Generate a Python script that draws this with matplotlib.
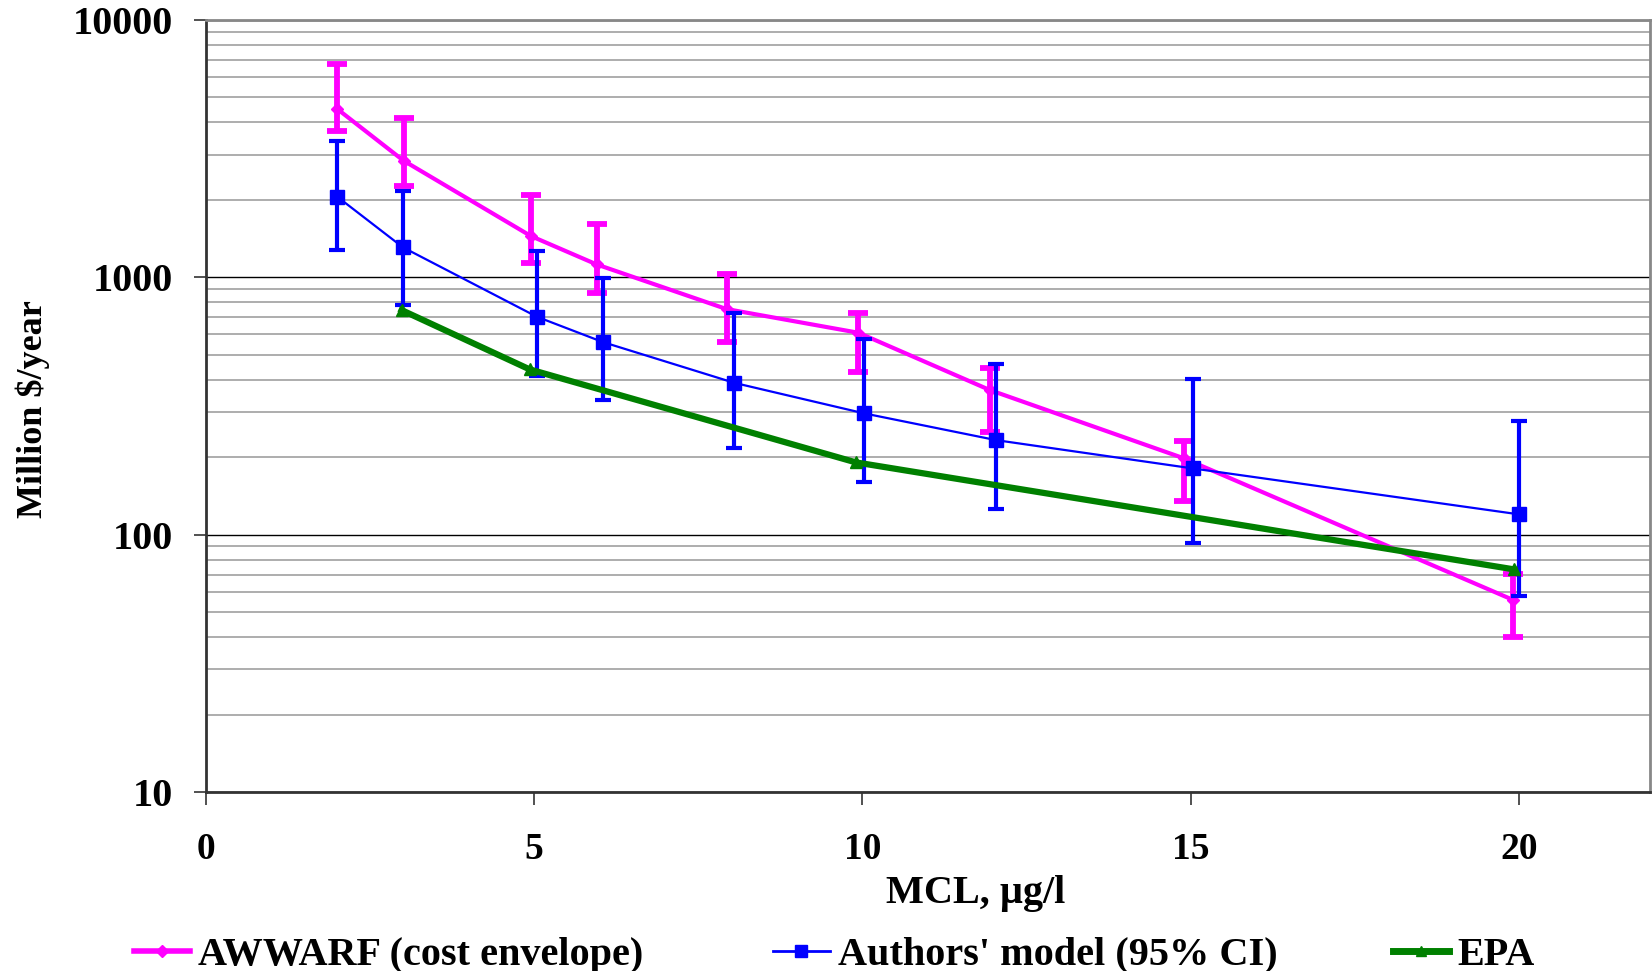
import matplotlib.pyplot as plt
from matplotlib.lines import Line2D
from matplotlib.ticker import LogLocator, NullFormatter, FixedLocator

# AWWARF cost envelope: central estimate and envelope limits
awwarf_mcl = [2, 3.01, 4.95, 5.95, 7.93, 9.94, 11.94, 14.9, 19.92]
awwarf_cost = [4510, 2840, 1447, 1123, 753, 609, 365, 198, 55.7]
awwarf_high = [6745, 4150, 2094, 1606, 1030, 725, 446, 232, 70.3]
awwarf_low = [3705, 2264, 1140, 871, 561, 430, 250, 135.5, 40.1]

# Authors' model with 95% confidence interval
model_mcl = [2, 3, 5.04, 6.05, 8.05, 10.03, 12.04, 15.03, 20]
model_cost = [2057, 1308, 703, 560, 389, 296, 233, 181, 120]
model_high = [3396, 2172, 1269, 996, 729, 574, 459, 402.6, 276.5]
model_low = [1277, 778, 415, 333, 218, 160.6, 125.4, 93, 57.9]

# EPA estimate
epa_mcl = [2.98, 4.93, 9.9, 19.93]
epa_cost = [746, 439, 191, 73.3]

x_ticks = [0, 5, 10, 15, 20]
y_ticks = [10, 100, 1000, 10000]

PINK = "#ff00ff"
BLUE = "#0000ff"
GREEN = "#008000"
FONT = "Liberation Serif"

fig = plt.figure(figsize=(16.52, 9.71), dpi=100)
ax = fig.add_axes([0.1247, 0.1843, 0.8741, 0.7951])

aw_err = [[c - l for c, l in zip(awwarf_cost, awwarf_low)],
          [h - c for c, h in zip(awwarf_cost, awwarf_high)]]
md_err = [[c - l for c, l in zip(model_cost, model_low)],
          [h - c for c, h in zip(model_cost, model_high)]]

ax.errorbar(awwarf_mcl, awwarf_cost, yerr=aw_err, color=PINK, lw=3,
            marker="D", ms=6, elinewidth=4.2, capsize=7.5, capthick=4.2,
            zorder=3)
ax.errorbar(model_mcl, model_cost, yerr=md_err, color=BLUE, lw=1.6,
            marker="s", ms=10, elinewidth=3, capsize=6, capthick=3,
            zorder=4)
ax.plot(epa_mcl, epa_cost, color=GREEN, lw=4.5, marker="^", ms=8, zorder=5)

ax.set_yscale("log")
ax.set_ylim(10, 10000)
ax.set_xlim(0, 22)

ax.xaxis.set_major_locator(FixedLocator(x_ticks))
ax.yaxis.set_major_locator(FixedLocator(y_ticks))
ax.yaxis.set_minor_locator(LogLocator(base=10, subs=range(2, 10)))
ax.yaxis.set_minor_formatter(NullFormatter())
ax.set_yticklabels([str(v) for v in y_ticks])

ax.grid(True, which="major", axis="y", color="black", lw=1.0)
ax.grid(True, which="minor", axis="y", color="#a0a0a0", lw=1.2)
ax.set_axisbelow(True)

ax.tick_params(axis="both", which="major", direction="out", length=9,
               width=1.2, color="#333333")
ax.tick_params(axis="y", which="minor", length=0)
ax.tick_params(axis="y", pad=15)
ax.tick_params(axis="x", pad=20)
for lbl in ax.get_xticklabels():
    lbl.set_fontfamily(FONT)
    lbl.set_fontweight("bold")
    lbl.set_fontsize(27)
for lbl in ax.get_yticklabels():
    lbl.set_fontfamily(FONT)
    lbl.set_fontweight("bold")
    lbl.set_fontsize(29)

for side in ("left", "bottom"):
    ax.spines[side].set_color("#333333")
    ax.spines[side].set_linewidth(2)
for side in ("right", "top"):
    ax.spines[side].set_color("#888888")
    ax.spines[side].set_linewidth(2)

ax.set_xlabel("MCL, µg/l", fontfamily=FONT, fontweight="bold", fontsize=29)
ax.xaxis.set_label_coords(0.533, -0.107)
ax.set_ylabel("Million $/year", fontfamily=FONT, fontweight="bold",
              fontsize=26)
ax.yaxis.set_label_coords(-0.108, 0.496)

# legend entries spread along the bottom edge
entries = [
    (Line2D([], [], color=PINK, lw=4, marker="D", ms=6), "AWWARF (cost envelope)", 0.081),
    (Line2D([], [], color=BLUE, lw=2, marker="s", ms=9), "Authors' model (95% CI)", 0.468),
    (Line2D([], [], color=GREEN, lw=5, marker="^", ms=7), "EPA", 0.843),
]
for handle, label, xpos in entries:
    fig.legend([handle], [label], loc="center left",
               bbox_to_anchor=(xpos, 1 - 955 / 971), frameon=False,
               borderpad=0, borderaxespad=0, handlelength=1.4,
               handletextpad=0.2,
               prop={"family": FONT, "weight": "bold", "size": 29})

fig.savefig("out.png", dpi=100)
